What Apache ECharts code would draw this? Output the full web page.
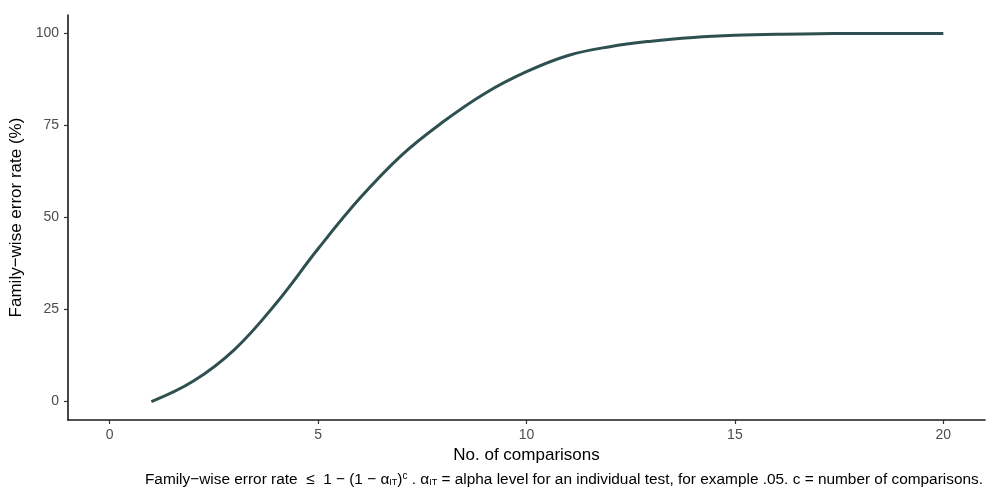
<!DOCTYPE html>
<html>
<head>
<meta charset="utf-8">
<script src="https://cdn.jsdelivr.net/npm/echarts@6/dist/echarts.min.js"></script>
<style>html,body{margin:0;padding:0;background:#fff;}#c{width:986px;height:490px;}</style>
</head>
<body>
<div id="c"></div>
<script>
var comparisons = [1,2,3,4,5,6,7,8,9,10,11,12,13,14,15,16,17,18,19,20];
var errorRate = [0,5.5,14.2,26.8,41.5,55.2,66.9,76,83.7,89.6,94.0,96.4,97.9,98.9,99.5,99.8,99.9,100,100,100];
var xTicks = [0,5,10,15,20];
var yTicks = [0,25,50,75,100];

var chart = echarts.init(document.getElementById('c'), null, {renderer:'canvas'});
var font = 'Liberation Sans, Arial, sans-serif';
chart.setOption({
  animation:false,
  backgroundColor:'#fff',
  grid:{left:68,right:1,top:15,bottom:70,containLabel:false,outerBoundsMode:'none'},
  xAxis:{
    type:'value',min:-1,max:21,
    name:'No. of comparisons',nameLocation:'middle',nameGap:27,
    nameTextStyle:{color:'#000',fontSize:17,fontFamily:font},
    axisLine:{show:true,onZero:false,lineStyle:{color:'#1a1a1a',width:1.6}},
    axisTick:{show:true,length:4,customValues:xTicks,lineStyle:{color:'#333',width:1.2}},
    axisLabel:{customValues:xTicks,color:'#4D4D4D',fontSize:14,fontFamily:font,margin:8},
    splitLine:{show:false}
  },
  yAxis:{
    type:'value',min:-5,max:105,
    name:'Family\u2212wise error rate (%)',nameLocation:'middle',nameGap:40,
    nameTextStyle:{color:'#000',fontSize:17,fontFamily:font},
    axisLine:{show:true,onZero:false,lineStyle:{color:'#1a1a1a',width:1.6}},
    axisTick:{show:true,length:4,customValues:yTicks,lineStyle:{color:'#333',width:1.2}},
    axisLabel:{customValues:yTicks,color:'#4D4D4D',fontSize:14,fontFamily:font,margin:9},
    splitLine:{show:false}
  },
  series:[{
    type:'line',
    data:comparisons.map(function(c,i){return [c,errorRate[i]];}),
    smooth:0.4,
    showSymbol:false,
    lineStyle:{color:'#2F5050',width:3},
    itemStyle:{color:'#2F5050'}
  }],
  graphic:[{
    type:'text',
    right:3,
    top:471,
    style:{
      text:'Family\u2212wise error rate  \u2264  1 \u2212 (1 \u2212 \u03b1{sub|IT})' + '{sup|c}' + ' . \u03b1{sub|IT} = alpha level for an individual test, for example .05. c = number of comparisons.',
      fill:'#000',
      fontSize:15.4,
      fontFamily:font,
      rich:{
        sub:{fontSize:9,padding:[7,0,0,0],fill:'#000',fontFamily:font},
        sup:{fontSize:10,padding:[0,0,7,0],fill:'#000',fontFamily:font}
      }
    }
  }]
});
</script>
</body>
</html>
